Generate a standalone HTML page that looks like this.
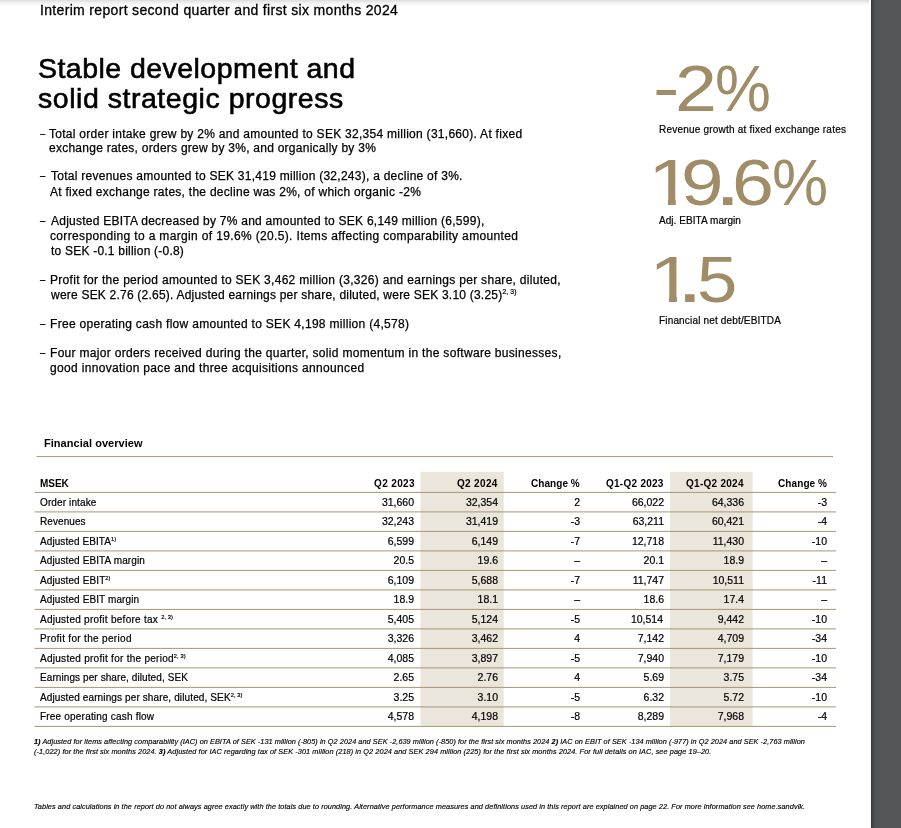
<!DOCTYPE html>
<html><head><meta charset="utf-8"><title>Interim report</title>
<style>
html,body{margin:0;padding:0;}
body{width:901px;height:828px;overflow:hidden;background:#fff;position:relative;font-family:"Liberation Sans",sans-serif;color:#000;}
.t{position:absolute;display:block;white-space:nowrap;line-height:0;height:0;}
.g{height:0;line-height:0;font-size:0;}
.d{display:inline-block;transform-origin:0 0;letter-spacing:0;white-space:nowrap;}
.z{font-size:0;letter-spacing:0;}
#side{position:absolute;left:871px;top:0;width:30px;height:828px;background:linear-gradient(to right,#2f3336 0,#3e4245 1px,#484c4f 3px,#505457 5px,#525659 7px,#525659 100%);}
#topshadow{position:absolute;left:0;top:0;width:869px;height:8px;background:linear-gradient(to bottom,#dcdcdc 0,#ececec 2px,#f7f7f7 4px,#fdfdfd 6px,#fff 8px);}
sup{font-size:57%;vertical-align:baseline;position:relative;top:-0.76em;line-height:0;-webkit-text-stroke:0.2px;letter-spacing:0.1px}
</style></head><body>
<div id="topshadow"></div>
<div id="side"></div>
<svg id="tbl" width="901" height="828" style="position:absolute;left:0;top:0">
<rect x="420.5" y="471.8" width="83.2" height="255.2" fill="#eae6db"/>
<rect x="670.1" y="471.8" width="82.5" height="255.2" fill="#eae6db"/>
<rect x="36.5" y="456.1" width="796.5" height="1" fill="#a89673"/>
<rect x="34.5" y="491.9" width="801.5" height="1" fill="#a89673"/>
<rect x="34.5" y="511.4" width="801.5" height="1" fill="#a89673"/>
<rect x="34.5" y="530.9" width="801.5" height="1" fill="#a89673"/>
<rect x="34.5" y="550.4" width="801.5" height="1" fill="#a89673"/>
<rect x="34.5" y="569.9" width="801.5" height="1" fill="#a89673"/>
<rect x="34.5" y="589.4" width="801.5" height="1" fill="#a89673"/>
<rect x="34.5" y="608.9" width="801.5" height="1" fill="#a89673"/>
<rect x="34.5" y="628.4" width="801.5" height="1" fill="#a89673"/>
<rect x="34.5" y="647.9" width="801.5" height="1" fill="#a89673"/>
<rect x="34.5" y="667.4" width="801.5" height="1" fill="#a89673"/>
<rect x="34.5" y="686.9" width="801.5" height="1" fill="#a89673"/>
<rect x="34.5" y="706.4" width="801.5" height="1" fill="#a89673"/>
<rect x="34.5" y="725.9" width="801.5" height="1" fill="#a89673"/>

</svg>
<div class="t" style="top:10px;left:40px;font-size:14px;letter-spacing:0.329px;-webkit-text-stroke:0.3px">Interim report second quarter and first six months 2024</div>
<div class="t" style="top:68px;left:38px;font-size:28.5px;letter-spacing:0.459px;-webkit-text-stroke:0.6px">Stable development and</div>
<div class="t" style="top:98px;left:38px;font-size:28.5px;letter-spacing:0.531px;-webkit-text-stroke:0.6px">solid strategic progress</div>
<div class="t" style="top:134px;left:40px;font-size:12px;letter-spacing:0.278px;-webkit-text-stroke:0.25px"><span class="d" style="width:9px;transform:scaleX(0.8213);-webkit-text-stroke:0.1px">–</span><span class="z"> </span>Total order intake grew by 2% and amounted to SEK 32,354 million (31,660). At fixed</div>
<div class="t" style="top:148px;left:49px;font-size:12px;letter-spacing:0.254px;-webkit-text-stroke:0.25px">exchange rates, orders grew by 3%, and organically by 3%</div>
<div class="t" style="top:176px;left:40px;font-size:12px;letter-spacing:0.261px;-webkit-text-stroke:0.25px"><span class="d" style="width:11px;transform:scaleX(0.7887);-webkit-text-stroke:0.3px">–</span><span class="z"> </span>Total revenues amounted to SEK 31,419 million (32,243), a decline of 3%.</div>
<div class="t" style="top:192px;left:50px;font-size:12px;letter-spacing:0.270px;-webkit-text-stroke:0.25px">At fixed exchange rates, the decline was 2%, of which organic -2%</div>
<div class="t" style="top:221px;left:40px;font-size:12px;letter-spacing:0.248px;-webkit-text-stroke:0.25px"><span class="d" style="width:11px;transform:scaleX(0.7887);-webkit-text-stroke:0.3px">–</span><span class="z"> </span>Adjusted EBITA decreased by 7% and amounted to SEK 6,149 million (6,599),</div>
<div class="t" style="top:236px;left:50px;font-size:12px;letter-spacing:0.349px;-webkit-text-stroke:0.25px">corresponding to a margin of 19.6% (20.5). Items affecting comparability amounted</div>
<div class="t" style="top:251px;left:51px;font-size:12px;letter-spacing:0.218px;-webkit-text-stroke:0.25px">to SEK -0.1 billion (-0.8)</div>
<div class="t" style="top:280px;left:40px;font-size:12px;letter-spacing:0.297px;-webkit-text-stroke:0.25px"><span class="d" style="width:10px;transform:scaleX(0.7887);-webkit-text-stroke:0.3px">–</span><span class="z"> </span>Profit for the period amounted to SEK 3,462 million (3,326) and earnings per share, diluted,</div>
<div class="t" style="top:295px;left:51px;font-size:12px;letter-spacing:0.214px;-webkit-text-stroke:0.25px">were SEK 2.76 (2.65). Adjusted earnings per share, diluted, were SEK 3.10 (3.25)<sup>2, 3)</sup></div>
<div class="t" style="top:324px;left:40px;font-size:12px;letter-spacing:0.297px;-webkit-text-stroke:0.25px"><span class="d" style="width:10px;transform:scaleX(0.7887);-webkit-text-stroke:0.3px">–</span><span class="z"> </span>Free operating cash flow amounted to SEK 4,198 million (4,578)</div>
<div class="t" style="top:353px;left:40px;font-size:12px;letter-spacing:0.307px;-webkit-text-stroke:0.25px"><span class="d" style="width:10px;transform:scaleX(0.7887);-webkit-text-stroke:0.3px">–</span><span class="z"> </span>Four major orders received during the quarter, solid momentum in the software businesses,</div>
<div class="t" style="top:368px;left:50px;font-size:12px;letter-spacing:0.330px;-webkit-text-stroke:0.25px">good innovation pace and three acquisitions announced</div>
<div class="t" style="top:89px;left:653px;font-size:64px;color:#a08c66"><span class="d" style="width:22px;transform:scaleX(1.2397);position:relative;top:-1px">-</span><span class="d" style="width:40px;transform:scaleX(1.1784)">2</span><span class="d" style="transform:scaleX(0.9828)">%</span></div>
<div class="t" style="top:180px;left:648px;font-size:64px;color:#a08c66"><span class="d" style="width:33px;transform:scaleX(1.2569);clip-path:polygon(0 -28px,22.1px -28px,22.1px 24px,15.9px 24px,15.9px 16.7px,0 16.7px)">1</span><span class="d" style="width:33px;transform:scaleX(1.1950)">9</span><span class="d" style="width:18px;transform:scaleX(1.3681);font-size:72px">.</span><span class="d" style="width:40px;transform:scaleX(1.1765)">6</span><span class="d" style="transform:scaleX(0.9866)">%</span></div>
<div class="t" style="top:277px;left:649px;font-size:64px;color:#a08c66"><span class="d" style="width:27px;transform:scaleX(1.2626);clip-path:polygon(0 -28px,22.1px -28px,22.1px 24px,15.9px 24px,15.9px 16.7px,0 16.7px)">1</span><span class="d" style="width:21px;transform:scaleX(1.3799);font-size:72px">.</span><span class="d" style="transform:scaleX(1.1323)">5</span></div>
<div class="t" style="top:130px;left:659px;font-size:10px;letter-spacing:0.214px;-webkit-text-stroke:0.2px">Revenue growth at fixed exchange rates</div>
<div class="t" style="top:221px;left:659px;font-size:10px;letter-spacing:0.056px;-webkit-text-stroke:0.2px">Adj. EBITA margin</div>
<div class="t" style="top:321px;left:659px;font-size:10px;letter-spacing:0.166px;-webkit-text-stroke:0.2px">Financial net debt/EBITDA</div>
<div class="t" style="top:443px;left:44px;font-size:11px;letter-spacing:0.041px;font-weight:bold">Financial overview</div>
<div class="t" style="top:484px;left:40px;font-size:10px;letter-spacing:-0.055px;font-weight:bold">MSEK</div>
<div class="t" style="top:484px;left:374px;font-size:10px;letter-spacing:0.369px;font-weight:bold">Q2 2023</div>
<div class="t" style="top:484px;left:457px;font-size:10px;letter-spacing:0.328px;font-weight:bold">Q2 2024</div>
<div class="t" style="top:484px;left:531px;font-size:10px;letter-spacing:0.056px;font-weight:bold">Change %</div>
<div class="t" style="top:484px;left:606px;font-size:10px;letter-spacing:0.265px;font-weight:bold">Q1-Q2 2023</div>
<div class="t" style="top:484px;left:686px;font-size:10px;letter-spacing:0.276px;font-weight:bold">Q1-Q2 2024</div>
<div class="t" style="top:484px;left:778px;font-size:10px;letter-spacing:0.096px;font-weight:bold">Change %</div>
<div class="t" style="top:503px;left:40px;font-size:10px;letter-spacing:0.124px;-webkit-text-stroke:0.2px">Order intake</div>
<div class="t" style="top:502px;right:487px;font-size:10.5px;-webkit-text-stroke:0.2px">31,660</div>
<div class="t" style="top:502px;right:403px;font-size:10.5px;-webkit-text-stroke:0.2px">32,354</div>
<div class="t" style="top:502px;right:321px;font-size:10.5px;-webkit-text-stroke:0.2px">2</div>
<div class="t" style="top:502px;right:237px;font-size:10.5px;-webkit-text-stroke:0.2px">66,022</div>
<div class="t" style="top:502px;right:157px;font-size:10.5px;-webkit-text-stroke:0.2px">64,336</div>
<div class="t" style="top:502px;right:74px;font-size:10.5px;-webkit-text-stroke:0.2px">-3</div>
<div class="t" style="top:522px;left:40px;font-size:10px;letter-spacing:0.074px;-webkit-text-stroke:0.2px">Revenues</div>
<div class="t" style="top:521px;right:487px;font-size:10.5px;-webkit-text-stroke:0.2px">32,243</div>
<div class="t" style="top:521px;right:403px;font-size:10.5px;-webkit-text-stroke:0.2px">31,419</div>
<div class="t" style="top:521px;right:321px;font-size:10.5px;-webkit-text-stroke:0.2px">-3</div>
<div class="t" style="top:521px;right:237px;font-size:10.5px;-webkit-text-stroke:0.2px">63,211</div>
<div class="t" style="top:521px;right:157px;font-size:10.5px;-webkit-text-stroke:0.2px">60,421</div>
<div class="t" style="top:521px;right:74px;font-size:10.5px;-webkit-text-stroke:0.2px">-4</div>
<div class="t" style="top:542px;left:40px;font-size:10px;letter-spacing:0.088px;-webkit-text-stroke:0.2px">Adjusted EBITA<sup>1)</sup></div>
<div class="t" style="top:541px;right:487px;font-size:10.5px;-webkit-text-stroke:0.2px">6,599</div>
<div class="t" style="top:541px;right:403px;font-size:10.5px;-webkit-text-stroke:0.2px">6,149</div>
<div class="t" style="top:541px;right:321px;font-size:10.5px;-webkit-text-stroke:0.2px">-7</div>
<div class="t" style="top:541px;right:237px;font-size:10.5px;-webkit-text-stroke:0.2px">12,718</div>
<div class="t" style="top:541px;right:157px;font-size:10.5px;-webkit-text-stroke:0.2px">11,430</div>
<div class="t" style="top:541px;right:74px;font-size:10.5px;-webkit-text-stroke:0.2px">-10</div>
<div class="t" style="top:561px;left:40px;font-size:10px;letter-spacing:0.109px;-webkit-text-stroke:0.2px">Adjusted EBITA margin</div>
<div class="t" style="top:560px;right:487px;font-size:10.5px;-webkit-text-stroke:0.2px">20.5</div>
<div class="t" style="top:560px;right:403px;font-size:10.5px;-webkit-text-stroke:0.2px">19.6</div>
<div class="t" style="top:560px;right:321px;font-size:10.5px;-webkit-text-stroke:0.2px">–</div>
<div class="t" style="top:560px;right:237px;font-size:10.5px;-webkit-text-stroke:0.2px">20.1</div>
<div class="t" style="top:560px;right:157px;font-size:10.5px;-webkit-text-stroke:0.2px">18.9</div>
<div class="t" style="top:560px;right:74px;font-size:10.5px;-webkit-text-stroke:0.2px">–</div>
<div class="t" style="top:581px;left:40px;font-size:10px;letter-spacing:0.110px;-webkit-text-stroke:0.2px">Adjusted EBIT<sup>2)</sup></div>
<div class="t" style="top:580px;right:487px;font-size:10.5px;-webkit-text-stroke:0.2px">6,109</div>
<div class="t" style="top:580px;right:403px;font-size:10.5px;-webkit-text-stroke:0.2px">5,688</div>
<div class="t" style="top:580px;right:321px;font-size:10.5px;-webkit-text-stroke:0.2px">-7</div>
<div class="t" style="top:580px;right:237px;font-size:10.5px;-webkit-text-stroke:0.2px">11,747</div>
<div class="t" style="top:580px;right:157px;font-size:10.5px;-webkit-text-stroke:0.2px">10,511</div>
<div class="t" style="top:580px;right:74px;font-size:10.5px;-webkit-text-stroke:0.2px">-11</div>
<div class="t" style="top:600px;left:40px;font-size:10px;letter-spacing:0.106px;-webkit-text-stroke:0.2px">Adjusted EBIT margin</div>
<div class="t" style="top:599px;right:487px;font-size:10.5px;-webkit-text-stroke:0.2px">18.9</div>
<div class="t" style="top:599px;right:403px;font-size:10.5px;-webkit-text-stroke:0.2px">18.1</div>
<div class="t" style="top:599px;right:321px;font-size:10.5px;-webkit-text-stroke:0.2px">–</div>
<div class="t" style="top:599px;right:237px;font-size:10.5px;-webkit-text-stroke:0.2px">18.6</div>
<div class="t" style="top:599px;right:157px;font-size:10.5px;-webkit-text-stroke:0.2px">17.4</div>
<div class="t" style="top:599px;right:74px;font-size:10.5px;-webkit-text-stroke:0.2px">–</div>
<div class="t" style="top:620px;left:40px;font-size:10px;letter-spacing:0.265px;-webkit-text-stroke:0.2px">Adjusted profit before tax <sup>2, 3)</sup></div>
<div class="t" style="top:619px;right:487px;font-size:10.5px;-webkit-text-stroke:0.2px">5,405</div>
<div class="t" style="top:619px;right:403px;font-size:10.5px;-webkit-text-stroke:0.2px">5,124</div>
<div class="t" style="top:619px;right:321px;font-size:10.5px;-webkit-text-stroke:0.2px">-5</div>
<div class="t" style="top:619px;right:238px;font-size:10.5px;-webkit-text-stroke:0.2px">10,514</div>
<div class="t" style="top:619px;right:157px;font-size:10.5px;-webkit-text-stroke:0.2px">9,442</div>
<div class="t" style="top:619px;right:74px;font-size:10.5px;-webkit-text-stroke:0.2px">-10</div>
<div class="t" style="top:639px;left:40px;font-size:10px;letter-spacing:0.321px;-webkit-text-stroke:0.2px">Profit for the period</div>
<div class="t" style="top:638px;right:487px;font-size:10.5px;-webkit-text-stroke:0.2px">3,326</div>
<div class="t" style="top:638px;right:403px;font-size:10.5px;-webkit-text-stroke:0.2px">3,462</div>
<div class="t" style="top:638px;right:321px;font-size:10.5px;-webkit-text-stroke:0.2px">4</div>
<div class="t" style="top:638px;right:237px;font-size:10.5px;-webkit-text-stroke:0.2px">7,142</div>
<div class="t" style="top:638px;right:157px;font-size:10.5px;-webkit-text-stroke:0.2px">4,709</div>
<div class="t" style="top:638px;right:74px;font-size:10.5px;-webkit-text-stroke:0.2px">-34</div>
<div class="t" style="top:659px;left:40px;font-size:10px;letter-spacing:0.274px;-webkit-text-stroke:0.2px">Adjusted profit for the period<sup>2, 3)</sup></div>
<div class="t" style="top:658px;right:487px;font-size:10.5px;-webkit-text-stroke:0.2px">4,085</div>
<div class="t" style="top:658px;right:403px;font-size:10.5px;-webkit-text-stroke:0.2px">3,897</div>
<div class="t" style="top:658px;right:321px;font-size:10.5px;-webkit-text-stroke:0.2px">-5</div>
<div class="t" style="top:658px;right:237px;font-size:10.5px;-webkit-text-stroke:0.2px">7,940</div>
<div class="t" style="top:658px;right:157px;font-size:10.5px;-webkit-text-stroke:0.2px">7,179</div>
<div class="t" style="top:658px;right:74px;font-size:10.5px;-webkit-text-stroke:0.2px">-10</div>
<div class="t" style="top:678px;left:40px;font-size:10px;letter-spacing:0.089px;-webkit-text-stroke:0.2px">Earnings per share, diluted, SEK</div>
<div class="t" style="top:677px;right:487px;font-size:10.5px;-webkit-text-stroke:0.2px">2.65</div>
<div class="t" style="top:677px;right:403px;font-size:10.5px;-webkit-text-stroke:0.2px">2.76</div>
<div class="t" style="top:677px;right:321px;font-size:10.5px;-webkit-text-stroke:0.2px">4</div>
<div class="t" style="top:677px;right:237px;font-size:10.5px;-webkit-text-stroke:0.2px">5.69</div>
<div class="t" style="top:677px;right:157px;font-size:10.5px;-webkit-text-stroke:0.2px">3.75</div>
<div class="t" style="top:677px;right:74px;font-size:10.5px;-webkit-text-stroke:0.2px">-34</div>
<div class="t" style="top:698px;left:40px;font-size:10px;letter-spacing:0.122px;-webkit-text-stroke:0.2px">Adjusted earnings per share, diluted, SEK<sup>2, 3)</sup></div>
<div class="t" style="top:697px;right:487px;font-size:10.5px;-webkit-text-stroke:0.2px">3.25</div>
<div class="t" style="top:697px;right:403px;font-size:10.5px;-webkit-text-stroke:0.2px">3.10</div>
<div class="t" style="top:697px;right:321px;font-size:10.5px;-webkit-text-stroke:0.2px">-5</div>
<div class="t" style="top:697px;right:237px;font-size:10.5px;-webkit-text-stroke:0.2px">6.32</div>
<div class="t" style="top:697px;right:157px;font-size:10.5px;-webkit-text-stroke:0.2px">5.72</div>
<div class="t" style="top:697px;right:74px;font-size:10.5px;-webkit-text-stroke:0.2px">-10</div>
<div class="t" style="top:717px;left:40px;font-size:10px;letter-spacing:0.197px;-webkit-text-stroke:0.2px">Free operating cash flow</div>
<div class="t" style="top:716px;right:487px;font-size:10.5px;-webkit-text-stroke:0.2px">4,578</div>
<div class="t" style="top:716px;right:403px;font-size:10.5px;-webkit-text-stroke:0.2px">4,198</div>
<div class="t" style="top:716px;right:321px;font-size:10.5px;-webkit-text-stroke:0.2px">-8</div>
<div class="t" style="top:716px;right:237px;font-size:10.5px;-webkit-text-stroke:0.2px">8,289</div>
<div class="t" style="top:716px;right:157px;font-size:10.5px;-webkit-text-stroke:0.2px">7,968</div>
<div class="t" style="top:716px;right:74px;font-size:10.5px;-webkit-text-stroke:0.2px">-4</div>
<div class="t" style="top:742px;left:34px;font-size:7.3px;letter-spacing:0.063px;font-style:italic;-webkit-text-stroke:0.15px"><b>1)</b> Adjusted for items affecting comparability (IAC) on EBITA of SEK -131 million (-805) in Q2 2024 and SEK -2,639 million (-850) for the first six months 2024 <b>2)</b> IAC on EBIT of SEK -134 million (-977) in Q2 2024 and SEK -2,763 million</div>
<div class="t" style="top:752px;left:34px;font-size:7.3px;letter-spacing:0.089px;font-style:italic;-webkit-text-stroke:0.15px">(-1,022) for the first six months 2024. <b>3)</b> Adjusted for IAC regarding tax of SEK -301 million (218) in Q2 2024 and SEK 294 million (225) for the first six months 2024. For full details on IAC, see page 19–20.</div>
<div class="t" style="top:807px;left:34px;font-size:7.3px;letter-spacing:0.085px;font-style:italic;-webkit-text-stroke:0.15px">Tables and calculations in the report do not always agree exactly with the totals due to rounding. Alternative performance measures and definitions used in this report are explained on page 22. For more information see home.sandvik.</div>
</body></html>
